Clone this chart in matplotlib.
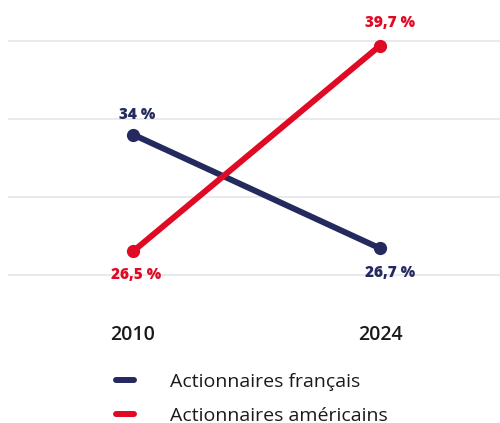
import matplotlib
matplotlib.use("Agg")
import matplotlib.pyplot as plt
from matplotlib.lines import Line2D
from matplotlib import font_manager as fm

years = ["2010", "2024"]
francais = [34.0, 26.7]
americains = [26.5, 39.7]
lab_fr = ["34 %", "26,7 %"]
lab_us = ["26,5 %", "39,7 %"]
series_names = ["Actionnaires français", "Actionnaires américains"]
navy = "#242a5e"
red = "#e00a25"

plt.rcParams['font.family'] = ['Open Sans', 'DejaVu Sans']

bold_fp = fm.FontProperties(family=['Open Sans', 'DejaVu Sans'], weight=800,
                            stretch='normal', size=11)

fig = plt.figure(figsize=(5.0, 4.23), dpi=100)
ax = fig.add_axes([0.016, 0.2766, 0.984, 0.7002])
x = [0, 1]
ax.set_xlim(-0.506, 1.486)
ax.set_ylim(23, 42)
ax.set_yticks([25, 30, 35, 40])
ax.yaxis.grid(True, color="#e6e6e6", linewidth=1.2)
ax.set_axisbelow(True)
for s in ax.spines.values():
    s.set_visible(False)
ax.tick_params(axis='y', length=0, labelleft=False)
ax.tick_params(axis='x', length=0, pad=14, labelsize=14, labelcolor="#1a1a1a")
ax.set_xticks(x)
ax.set_xticklabels(years, fontweight='semibold')

ax.plot(x, francais, color=navy, lw=4.3, marker='o', ms=8.5, solid_capstyle='round')
ax.plot(x, americains, color=red, lw=4.3, marker='o', ms=8.5, solid_capstyle='round')

offs_fr = [(3, 14), (7, -18)]
offs_us = [(2, -17), (7, 16)]
for xi, v, t, o in zip(x, francais, lab_fr, offs_fr):
    ax.annotate(t, (xi, v), xytext=o, textcoords='offset points', ha='center',
                va='center', color=navy, fontproperties=bold_fp)
for xi, v, t, o in zip(x, americains, lab_us, offs_us):
    ax.annotate(t, (xi, v), xytext=o, textcoords='offset points', ha='center',
                va='center', color=red, fontproperties=bold_fp)

h1 = Line2D([], [], color=navy, lw=4.3, solid_capstyle='round')
h2 = Line2D([], [], color=red, lw=4.3, solid_capstyle='round')
leg = fig.legend([h1, h2], series_names, loc='upper left', bbox_to_anchor=(0.232, 0.118),
                 frameon=False, fontsize=14, handlelength=0.93, handletextpad=1.86,
                 labelspacing=0.8, borderaxespad=0, borderpad=0)
for t in leg.get_texts():
    t.set_color("#1a1a1a")

fig.savefig("out.png", dpi=100)
